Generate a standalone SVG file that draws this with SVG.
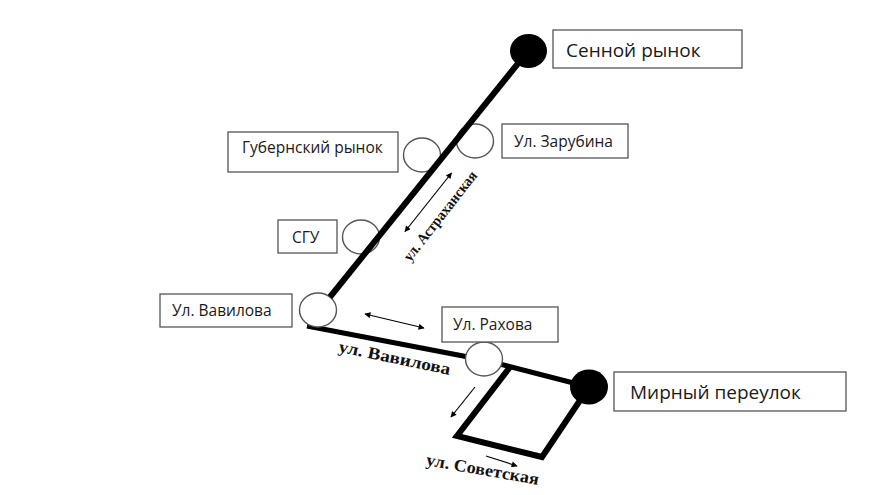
<svg xmlns="http://www.w3.org/2000/svg" width="880" height="495" viewBox="0 0 880 495">
<style>
.box{fill:#fff;stroke:#555;stroke-width:1.3}
.lbl{font-family:"Open Sans","Liberation Sans",sans-serif;font-size:15.5px;fill:#1a1a1a}
.big{font-size:19px}
.stop{fill:#fff;stroke:#555;stroke-width:1.4}
.term{fill:#000}
.road{fill:none;stroke:#000;stroke-width:6;stroke-linejoin:miter}
.arr{fill:none;stroke:#000;stroke-width:1.2}
.street{font-family:"Liberation Serif","Times New Roman",serif;font-weight:bold;fill:#111}
</style>
<defs>
<marker id="ah" viewBox="0 0 10 10" refX="9" refY="5" markerWidth="8" markerHeight="6" markerUnits="userSpaceOnUse" orient="auto-start-reverse">
<path d="M0,0 L10,5 L0,10 Z" fill="#000"/>
</marker>
</defs>
<rect width="880" height="495" fill="#fff"/>
<g id="connectors">
<polyline class="road" points="307,326 484,360 589,387" style="stroke-width:5"/>
<polyline class="road" points="510,367 457,436 542,457 589,387"/>
</g>
<g id="stop-zarubina"><ellipse class="stop" cx="475" cy="141" rx="18.5" ry="17"/></g>
<g id="stop-gubernsky"><ellipse class="stop" cx="422" cy="155" rx="18.5" ry="17"/></g>
<g id="stop-sgu"><ellipse class="stop" cx="361" cy="237" rx="18.5" ry="17"/></g>
<g id="stop-vavilova"><ellipse class="stop" cx="318" cy="310" rx="18.5" ry="17"/></g>
<g id="stop-rakhova"><ellipse class="stop" cx="484" cy="359" rx="18.5" ry="17"/></g>
<g id="connectors-main">
<line class="road" x1="528" y1="51" x2="330" y2="297"/>
<line class="arr" x1="451.5" y1="173" x2="405" y2="231.5" marker-start="url(#ah)" marker-end="url(#ah)"/>
<line class="arr" x1="365" y1="314" x2="424" y2="328" marker-start="url(#ah)" marker-end="url(#ah)"/>
<line class="arr" x1="475" y1="387" x2="451" y2="417" marker-end="url(#ah)"/>
<line class="arr" x1="486" y1="456" x2="517" y2="466" marker-end="url(#ah)"/>
</g>
<g id="term-sennoy"><ellipse class="term" cx="528.5" cy="51" rx="18.5" ry="17"/></g>
<g id="term-mirny"><ellipse class="term" cx="589" cy="387" rx="19" ry="17.5"/></g>
<g id="box-sennoy"><rect class="box" x="553" y="30" width="189" height="38"/><text class="lbl big" x="566" y="57">Сенной рынок</text></g>
<g id="box-zarubina"><rect class="box" x="502" y="124" width="126" height="34"/><text class="lbl" x="514" y="147">Ул. Зарубина</text></g>
<g id="box-gubernsky"><rect class="box" x="228" y="132" width="170" height="40"/><text class="lbl" x="242" y="153">Губернский рынок</text></g>
<g id="box-sgu"><rect class="box" x="278" y="220" width="59" height="33"/><text class="lbl" x="292" y="243">СГУ</text></g>
<g id="box-vavilova"><rect class="box" x="160" y="294" width="132" height="33"/><text class="lbl" x="172" y="316">Ул. Вавилова</text></g>
<g id="box-rakhova"><rect class="box" x="442" y="307" width="116" height="35"/><text class="lbl" x="453" y="330">Ул. Рахова</text></g>
<g id="box-mirny"><rect class="box" x="614" y="372" width="232" height="39"/><text class="lbl big" x="630" y="399">Мирный переулок</text></g>
<g id="street-labels">
<text class="street" font-size="15" text-anchor="middle" textLength="110" lengthAdjust="spacingAndGlyphs" transform="translate(444,219) rotate(-52)">ул. Астраханская</text>
<text class="street" font-size="17" text-anchor="middle" textLength="114" lengthAdjust="spacingAndGlyphs" transform="translate(393.5,363.3) rotate(11.7)">ул. Вавилова</text>
<text class="street" font-size="17" text-anchor="middle" textLength="114" lengthAdjust="spacingAndGlyphs" transform="translate(481.7,475) rotate(10)">ул. Советская</text>
</g>
</svg>
